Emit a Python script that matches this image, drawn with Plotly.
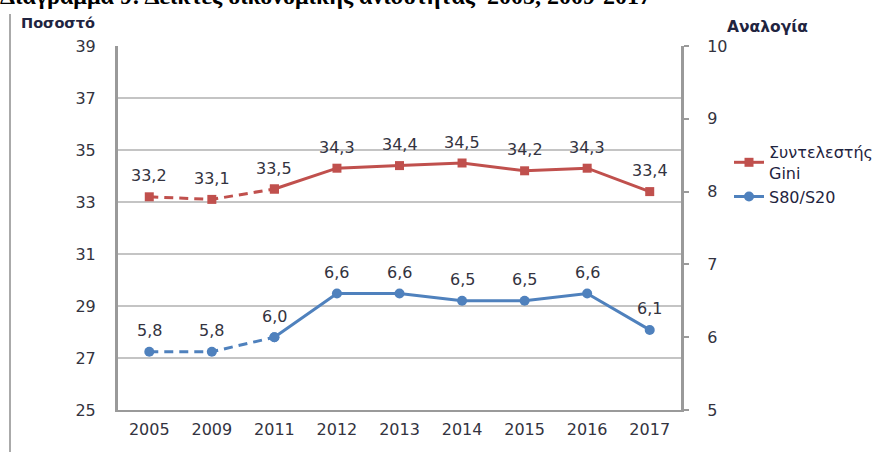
import plotly.graph_objects as go

years = ["2005", "2009", "2011", "2012", "2013", "2014", "2015", "2016", "2017"]
gini = [33.2, 33.1, 33.5, 34.3, 34.4, 34.5, 34.2, 34.3, 33.4]
s80s20 = [5.8, 5.8, 6.0, 6.6, 6.6, 6.5, 6.5, 6.6, 6.1]
left_ticks = [25, 27, 29, 31, 33, 35, 37, 39]
right_ticks = [5, 6, 7, 8, 9, 10]

RED = "#C0504D"
BLUE = "#4F81BD"
TXT = "#333340"
NAVY = "#1f2440"
FONT = "DejaVu Sans, Arial, sans-serif"

W, H = 877, 452
L, R, T, B = 118, 196, 46, 42
pw, ph = W - L - R, H - T - B

def px_x(x):
    return (x - L) / pw

def px_y(y):
    return (H - B - y) / ph

fig = go.Figure()

# dashed segments (2005-2011)
fig.add_trace(go.Scatter(x=years[:3], y=gini[:3], mode="lines+markers",
                         line=dict(color=RED, width=3, dash="9px,6px"),
                         marker=dict(symbol="square", size=9, color=RED),
                         showlegend=False, hoverinfo="skip"))
fig.add_trace(go.Scatter(x=years[:3], y=s80s20[:3], mode="lines+markers", yaxis="y2",
                         line=dict(color=BLUE, width=3, dash="9px,6px"),
                         marker=dict(symbol="circle", size=10, color=BLUE),
                         showlegend=False, hoverinfo="skip"))
# solid segments
fig.add_trace(go.Scatter(x=years[2:], y=gini[2:], mode="lines+markers",
                         name="Συντελεστής<br>Gini",
                         line=dict(color=RED, width=3),
                         marker=dict(symbol="square", size=9, color=RED)))
fig.add_trace(go.Scatter(x=years[2:], y=s80s20[2:], mode="lines+markers", yaxis="y2",
                         name="S80/S20",
                         line=dict(color=BLUE, width=3),
                         marker=dict(symbol="circle", size=10, color=BLUE)))

annotations = []
for i, yv in enumerate(gini):
    annotations.append(dict(x=i, y=yv, xref="x", yref="y", text=f"{yv:.1f}".replace(".", ","),
                            showarrow=False, yshift=21, font=dict(size=16, color=TXT, family=FONT)))
for i, yv in enumerate(s80s20):
    annotations.append(dict(x=i, y=yv, xref="x", yref="y2", text=f"{yv:.1f}".replace(".", ","),
                            showarrow=False, yshift=21, font=dict(size=16, color=TXT, family=FONT)))

annotations.append(dict(x=px_x(-2), y=px_y(-4), xref="paper", yref="paper", xanchor="left", yanchor="middle",
                        text="<b>Διάγραμμα 9: Δείκτες οικονομικής ανισότητας  2005, 2009-2017</b>",
                        showarrow=False, font=dict(size=24, color="#000000",
                                                   family="Liberation Serif, Times New Roman, serif")))
annotations.append(dict(x=px_x(19), y=px_y(23), xref="paper", yref="paper", xanchor="left", yanchor="middle",
                        text="<b>Ποσοστό</b>", showarrow=False,
                        font=dict(size=14.5, color=NAVY, family=FONT)))
annotations.append(dict(x=px_x(725), y=px_y(27), xref="paper", yref="paper", xanchor="left", yanchor="middle",
                        text="<b>Αναλογία</b>", showarrow=False,
                        font=dict(size=15.5, color=NAVY, family=FONT)))

fig.update_layout(
    width=W, height=H,
    margin=dict(l=L, r=R, t=T, b=B, pad=0, autoexpand=False),
    paper_bgcolor="white", plot_bgcolor="white",
    font=dict(family=FONT, size=16, color=TXT),
    xaxis=dict(type="category", categoryorder="array", categoryarray=years,
               range=[-0.5, 8.5], showgrid=False, showline=True, linecolor="#9a9a9a", linewidth=2,
               ticks="", tickfont=dict(size=16, color=TXT), ticklabelstandoff=4),
    yaxis=dict(range=[25, 39], tickvals=left_ticks, showgrid=True, gridcolor="#c4c4c4", gridwidth=1.5,
               showline=True, linecolor="#9a9a9a", linewidth=3, ticks="", zeroline=False,
               tickfont=dict(size=16, color=TXT), ticklabelstandoff=16),
    yaxis2=dict(range=[5, 10], tickvals=right_ticks, overlaying="y", side="right", showgrid=False,
                showline=True, linecolor="#9a9a9a", linewidth=3, ticks="outside", ticklen=5,
                tickcolor="#9a9a9a", tickwidth=1.5, zeroline=False,
                tickfont=dict(size=16, color=TXT), ticklabelstandoff=15),
    legend=dict(x=px_x(729), y=px_y(135), xanchor="left", yanchor="top",
                font=dict(size=16, color=NAVY, family=FONT), bgcolor="rgba(0,0,0,0)",
                tracegroupgap=0),
    showlegend=True,
    annotations=annotations,
    shapes=[dict(type="line", xref="paper", yref="paper", x0=px_x(10), x1=px_x(10),
                 y0=px_y(452), y1=px_y(14), line=dict(color="#aaaaaa", width=2))],
)

fig.write_html("out.html", config={"displayModeBar": False},
               post_script="document.body.style.margin='0';")
